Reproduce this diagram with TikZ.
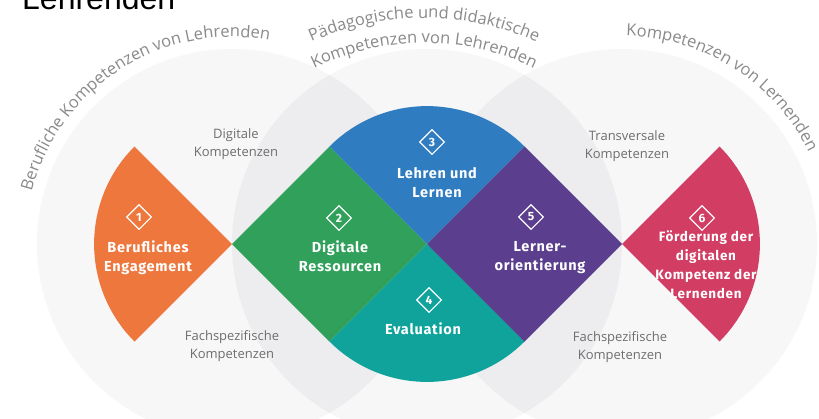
\documentclass[tikz,border=0pt]{standalone}
\usepackage{fontspec}
\setmainfont{Open Sans}
\newfontfamily\lblfam[LetterSpace=5]{Fira Sans}
\newfontfamily\arcfam{Open Sans}
\newfontfamily\topfam{Liberation Sans}
\usetikzlibrary{decorations.text,shapes.geometric}
\definecolor{cOrange}{HTML}{EE773D}
\definecolor{cGreen}{HTML}{30A05A}
\definecolor{cBlue}{HTML}{2F7CC0}
\definecolor{cTeal}{HTML}{0FA39C}
\definecolor{cPurple}{HTML}{5B3F8E}
\definecolor{cPink}{HTML}{D23D63}
\definecolor{bgOne}{HTML}{F7F7F8}
\definecolor{bgTwo}{HTML}{EDEDEF}
\definecolor{subGray}{HTML}{6E6E6E}
\definecolor{arcGray}{HTML}{8A8A8A}
\newcommand\arcstyle{\arcfam\fontsize{16.5}{19}\selectfont}
\tikzset{
  badge/.style={shape=diamond, draw=white, line width=1.1pt, minimum width=25pt, minimum height=25pt, inner sep=0pt, text=white, font=\lblfam\bfseries\fontsize{12}{12}\selectfont},
  areatext/.style={text=white, align=center, font=\lblfam\bfseries\fontsize{14.5}{19}\selectfont},
  subtext/.style={text=subGray, align=center, font=\fontsize{13}{18}\selectfont},
  arctext/.style={decorate, decoration={text along path, text align=center, text color=arcGray, text={#1}}}
}
\begin{document}
\begin{tikzpicture}[x=1pt,y=1pt]
\useasboundingbox (0,0) rectangle (819,-418);
\fill[white] (0,0) rectangle (819,-418);
\coordinate (A) at (232,-244);
\coordinate (B) at (427,-244);
\coordinate (C) at (622,-244);
\coordinate (M) at (424,-295);
% background circles
\fill[bgOne] (A) circle (195);
\fill[bgOne] (B) circle (195);
\fill[bgOne] (C) circle (195);
\begin{scope}
  \clip (A) circle (195);
  \fill[bgTwo] (B) circle (195);
\end{scope}
\begin{scope}
  \clip (B) circle (195);
  \fill[bgTwo] (C) circle (195);
\end{scope}
% coloured areas
\def\R{137.9}
\fill[cOrange] (A) -- ++(135:\R) arc[start angle=135, end angle=225, radius=\R] -- cycle;
\fill[cGreen] (A) -- ++(45:\R) -- (B) -- ++(-135:\R) -- cycle;
\fill[cBlue] (B) -- ++(135:\R) arc[start angle=135, end angle=45, radius=\R] -- cycle;
\fill[cTeal] (B) -- ++(225:\R) arc[start angle=225, end angle=315, radius=\R] -- cycle;
\fill[cPurple] (B) -- ++(45:\R) -- (C) -- ++(-135:\R) -- cycle;
\fill[cPink] (C) -- ++(-45:\R) arc[start angle=-45, end angle=45, radius=\R] -- cycle;
% badges
\node[badge] (b1) at (139,-217) {1};
\node[badge] (b2) at (339,-218) {2};
\node[badge] (b3) at (432,-142) {3};
\node[badge] (b4) at (429,-300) {4};
\node[badge] (b5) at (531,-217) {5};
\node[badge] (b6) at (702,-218) {6};
% area labels
\node[areatext] (t1) at (148,-257.5) {Berufliches\\Engagement};
\node[areatext] (t2) at (340,-256.5) {Digitale\\Ressourcen};
\node[areatext] (t3) at (437,-183) {Lehren und\\Lernen};
\node[areatext] (t4) at (423,-329) {Evaluation};
\node[areatext] (t5) at (540,-257.5) {Lerner-\\orientierung};
\node[areatext, font=\lblfam\bfseries\fontsize{13.5}{19}\selectfont] (t6) at (706,-264.5) {Förderung der\\digitalen\\Kompetenz der\\Lernenden};
% grey labels
\node[subtext] (s1) at (236,-144) {Digitale\\Kompetenzen};
\node[subtext] (s2) at (232,-346) {Fachspezifische\\Kompetenzen};
\node[subtext] (s3) at (627,-146) {Transversale\\Kompetenzen};
\node[subtext] (s4) at (620,-347) {Fachspezifische\\Kompetenzen};
% curved titles
\path[arctext={|\arcstyle|Berufliche Kompetenzen von Lehrenden}] (A) ++(175:207) arc[start angle=175, end angle=70, radius=207];
\path[arctext={|\arcstyle|Pädagogische und didaktische}] (M) ++(125:277) arc[start angle=125, end angle=55, radius=277];
\path[arctext={|\arcstyle|Kompetenzen von Lehrenden}] (M) ++(125:252) arc[start angle=125, end angle=55, radius=252];
\path[arctext={|\arcstyle|Kompetenzen von Lernenden}] (C) ++(95:208) arc[start angle=95, end angle=20, radius=208];
% cut-off heading at the top
\node[anchor=base west, inner sep=0pt, font=\topfam\fontsize{32}{32}\selectfont] (head) at (22,-9) {Lehrenden};
\end{tikzpicture}
\end{document}
